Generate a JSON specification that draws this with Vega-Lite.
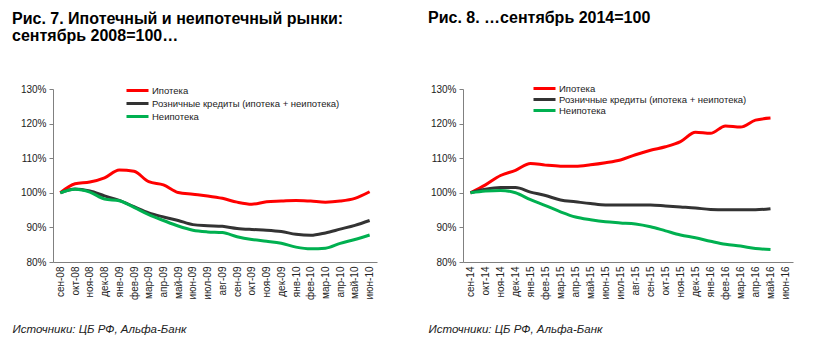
{
  "$schema": "https://vega.github.io/schema/vega-lite/v6.json",
  "background": "white",
  "padding": {"left": 12, "top": 10, "right": 5, "bottom": 5},
  "config": {
    "font": "Liberation Sans",
    "view": {"stroke": null},
    "title": {"font": "Liberation Sans", "fontSize": 16, "fontWeight": "bold", "anchor": "start", "color": "#000000", "lineHeight": 17, "offset": 40, "frame": "bounds"},
    "axisX": {"labelAngle": -90, "labelFontSize": 10, "labelColor": "#222222", "ticks": false, "domainColor": "#808080", "labelPadding": 4, "grid": false,
      "titleFont": "Liberation Sans", "titleFontStyle": "italic", "titleFontWeight": "normal", "titleFontSize": 11.5, "titleAnchor": "start", "titleAlign": "left", "titleBaseline": "middle", "titleColor": "#222222", "titleY": 67},
    "axisY": {"labelFontSize": 10, "labelColor": "#222222", "tickSize": 4, "tickColor": "#808080", "domainColor": "#808080", "labelPadding": 3, "grid": false, "title": null},
    "legend": {"orient": "none", "title": null, "symbolType": "stroke", "symbolStrokeWidth": 3, "symbolSize": 484, "labelFontSize": 9.5, "labelColor": "#222222", "labelFont": "Liberation Sans", "labelLimit": 400, "clipHeight": 11, "padding": 0, "labelOffset": 2}
  },
  "datasets": {
    "left": [
      {"m": "сен-08", "s": "Ипотека", "v": 100}, {"m": "окт-08", "s": "Ипотека", "v": 102.6}, {"m": "ноя-08", "s": "Ипотека", "v": 103.1}, {"m": "дек-08", "s": "Ипотека", "v": 104.3}, {"m": "янв-09", "s": "Ипотека", "v": 106.6}, {"m": "фев-09", "s": "Ипотека", "v": 106.2}, {"m": "мар-09", "s": "Ипотека", "v": 103.2}, {"m": "апр-09", "s": "Ипотека", "v": 102.3}, {"m": "май-09", "s": "Ипотека", "v": 100.1}, {"m": "июн-09", "s": "Ипотека", "v": 99.6}, {"m": "июл-09", "s": "Ипотека", "v": 99.1}, {"m": "авг-09", "s": "Ипотека", "v": 98.4}, {"m": "сен-09", "s": "Ипотека", "v": 97.3}, {"m": "окт-09", "s": "Ипотека", "v": 96.7}, {"m": "ноя-09", "s": "Ипотека", "v": 97.4}, {"m": "дек-09", "s": "Ипотека", "v": 97.6}, {"m": "янв-10", "s": "Ипотека", "v": 97.8}, {"m": "фев-10", "s": "Ипотека", "v": 97.6}, {"m": "мар-10", "s": "Ипотека", "v": 97.3}, {"m": "апр-10", "s": "Ипотека", "v": 97.6}, {"m": "май-10", "s": "Ипотека", "v": 98.4}, {"m": "июн-10", "s": "Ипотека", "v": 100.3},
      {"m": "сен-08", "s": "Розничные кредиты (ипотека + неипотека)", "v": 100}, {"m": "окт-08", "s": "Розничные кредиты (ипотека + неипотека)", "v": 101.1}, {"m": "ноя-08", "s": "Розничные кредиты (ипотека + неипотека)", "v": 100.5}, {"m": "дек-08", "s": "Розничные кредиты (ипотека + неипотека)", "v": 99.1}, {"m": "янв-09", "s": "Розничные кредиты (ипотека + неипотека)", "v": 97.8}, {"m": "фев-09", "s": "Розничные кредиты (ипотека + неипотека)", "v": 96.0}, {"m": "мар-09", "s": "Розничные кредиты (ипотека + неипотека)", "v": 94.2}, {"m": "апр-09", "s": "Розничные кредиты (ипотека + неипотека)", "v": 93.0}, {"m": "май-09", "s": "Розничные кредиты (ипотека + неипотека)", "v": 92.0}, {"m": "июн-09", "s": "Розничные кредиты (ипотека + неипотека)", "v": 90.8}, {"m": "июл-09", "s": "Розничные кредиты (ипотека + неипотека)", "v": 90.5}, {"m": "авг-09", "s": "Розничные кредиты (ипотека + неипотека)", "v": 90.3}, {"m": "сен-09", "s": "Розничные кредиты (ипотека + неипотека)", "v": 89.7}, {"m": "окт-09", "s": "Розничные кредиты (ипотека + неипотека)", "v": 89.4}, {"m": "ноя-09", "s": "Розничные кредиты (ипотека + неипотека)", "v": 89.2}, {"m": "дек-09", "s": "Розничные кредиты (ипотека + неипотека)", "v": 88.8}, {"m": "янв-10", "s": "Розничные кредиты (ипотека + неипотека)", "v": 88.0}, {"m": "фев-10", "s": "Розничные кредиты (ипотека + неипотека)", "v": 87.7}, {"m": "мар-10", "s": "Розничные кредиты (ипотека + неипотека)", "v": 88.4}, {"m": "апр-10", "s": "Розничные кредиты (ипотека + неипотека)", "v": 89.5}, {"m": "май-10", "s": "Розничные кредиты (ипотека + неипотека)", "v": 90.6}, {"m": "июн-10", "s": "Розничные кредиты (ипотека + неипотека)", "v": 92.0},
      {"m": "сен-08", "s": "Неипотека", "v": 100}, {"m": "окт-08", "s": "Неипотека", "v": 101.0}, {"m": "ноя-08", "s": "Неипотека", "v": 100.2}, {"m": "дек-08", "s": "Неипотека", "v": 98.2}, {"m": "янв-09", "s": "Неипотека", "v": 97.7}, {"m": "фев-09", "s": "Неипотека", "v": 95.8}, {"m": "мар-09", "s": "Неипотека", "v": 93.7}, {"m": "апр-09", "s": "Неипотека", "v": 92.0}, {"m": "май-09", "s": "Неипотека", "v": 90.4}, {"m": "июн-09", "s": "Неипотека", "v": 89.2}, {"m": "июл-09", "s": "Неипотека", "v": 88.7}, {"m": "авг-09", "s": "Неипотека", "v": 88.5}, {"m": "сен-09", "s": "Неипотека", "v": 87.3}, {"m": "окт-09", "s": "Неипотека", "v": 86.5}, {"m": "ноя-09", "s": "Неипотека", "v": 86.0}, {"m": "дек-09", "s": "Неипотека", "v": 85.4}, {"m": "янв-10", "s": "Неипотека", "v": 84.3}, {"m": "фев-10", "s": "Неипотека", "v": 83.8}, {"m": "мар-10", "s": "Неипотека", "v": 84.0}, {"m": "апр-10", "s": "Неипотека", "v": 85.4}, {"m": "май-10", "s": "Неипотека", "v": 86.5}, {"m": "июн-10", "s": "Неипотека", "v": 87.8}
    ],
    "right": [
      {"m": "сен-14", "s": "Ипотека", "v": 100}, {"m": "окт-14", "s": "Ипотека", "v": 102.3}, {"m": "ноя-14", "s": "Ипотека", "v": 105.0}, {"m": "дек-14", "s": "Ипотека", "v": 106.5}, {"m": "янв-15", "s": "Ипотека", "v": 108.5}, {"m": "фев-15", "s": "Ипотека", "v": 108.0}, {"m": "мар-15", "s": "Ипотека", "v": 107.7}, {"m": "апр-15", "s": "Ипотека", "v": 107.7}, {"m": "май-15", "s": "Ипотека", "v": 108.1}, {"m": "июн-15", "s": "Ипотека", "v": 108.7}, {"m": "июл-15", "s": "Ипотека", "v": 109.5}, {"m": "авг-15", "s": "Ипотека", "v": 111.0}, {"m": "сен-15", "s": "Ипотека", "v": 112.3}, {"m": "окт-15", "s": "Ипотека", "v": 113.3}, {"m": "ноя-15", "s": "Ипотека", "v": 114.8}, {"m": "дек-15", "s": "Ипотека", "v": 117.5}, {"m": "янв-16", "s": "Ипотека", "v": 117.2}, {"m": "фев-16", "s": "Ипотека", "v": 119.3}, {"m": "мар-16", "s": "Ипотека", "v": 119.0}, {"m": "апр-16", "s": "Ипотека", "v": 121.0}, {"m": "май-16", "s": "Ипотека", "v": 121.6},
      {"m": "сен-14", "s": "Розничные кредиты (ипотека + неипотека)", "v": 100}, {"m": "окт-14", "s": "Розничные кредиты (ипотека + неипотека)", "v": 101.0}, {"m": "ноя-14", "s": "Розничные кредиты (ипотека + неипотека)", "v": 101.5}, {"m": "дек-14", "s": "Розничные кредиты (ипотека + неипотека)", "v": 101.5}, {"m": "янв-15", "s": "Розничные кредиты (ипотека + неипотека)", "v": 100.2}, {"m": "фев-15", "s": "Розничные кредиты (ипотека + неипотека)", "v": 99.2}, {"m": "мар-15", "s": "Розничные кредиты (ипотека + неипотека)", "v": 97.9}, {"m": "апр-15", "s": "Розничные кредиты (ипотека + неипотека)", "v": 97.4}, {"m": "май-15", "s": "Розничные кредиты (ипотека + неипотека)", "v": 96.9}, {"m": "июн-15", "s": "Розничные кредиты (ипотека + неипотека)", "v": 96.5}, {"m": "июл-15", "s": "Розничные кредиты (ипотека + неипотека)", "v": 96.5}, {"m": "авг-15", "s": "Розничные кредиты (ипотека + неипотека)", "v": 96.5}, {"m": "сен-15", "s": "Розничные кредиты (ипотека + неипотека)", "v": 96.5}, {"m": "окт-15", "s": "Розничные кредиты (ипотека + неипотека)", "v": 96.2}, {"m": "ноя-15", "s": "Розничные кредиты (ипотека + неипотека)", "v": 95.9}, {"m": "дек-15", "s": "Розничные кредиты (ипотека + неипотека)", "v": 95.6}, {"m": "янв-16", "s": "Розничные кредиты (ипотека + неипотека)", "v": 95.2}, {"m": "фев-16", "s": "Розничные кредиты (ипотека + неипотека)", "v": 95.1}, {"m": "мар-16", "s": "Розничные кредиты (ипотека + неипотека)", "v": 95.1}, {"m": "апр-16", "s": "Розничные кредиты (ипотека + неипотека)", "v": 95.1}, {"m": "май-16", "s": "Розничные кредиты (ипотека + неипотека)", "v": 95.4},
      {"m": "сен-14", "s": "Неипотека", "v": 100}, {"m": "окт-14", "s": "Неипотека", "v": 100.5}, {"m": "ноя-14", "s": "Неипотека", "v": 100.7}, {"m": "дек-14", "s": "Неипотека", "v": 100.0}, {"m": "янв-15", "s": "Неипотека", "v": 98.0}, {"m": "фев-15", "s": "Неипотека", "v": 96.3}, {"m": "мар-15", "s": "Неипотека", "v": 94.5}, {"m": "апр-15", "s": "Неипотека", "v": 93.0}, {"m": "май-15", "s": "Неипотека", "v": 92.2}, {"m": "июн-15", "s": "Неипотека", "v": 91.6}, {"m": "июл-15", "s": "Неипотека", "v": 91.3}, {"m": "авг-15", "s": "Неипотека", "v": 91.0}, {"m": "сен-15", "s": "Неипотека", "v": 90.2}, {"m": "окт-15", "s": "Неипотека", "v": 89.0}, {"m": "ноя-15", "s": "Неипотека", "v": 87.8}, {"m": "дек-15", "s": "Неипотека", "v": 87.0}, {"m": "янв-16", "s": "Неипотека", "v": 86.0}, {"m": "фев-16", "s": "Неипотека", "v": 85.1}, {"m": "мар-16", "s": "Неипотека", "v": 84.6}, {"m": "апр-16", "s": "Неипотека", "v": 83.9}, {"m": "май-16", "s": "Неипотека", "v": 83.6}
    ]
  },
  "spacing": 51,
  "resolve": {"scale": {"color": "independent", "x": "independent", "y": "independent"}, "legend": {"color": "independent"}},
  "hconcat": [
    {
      "title": {"text": ["Рис. 7. Ипотечный и неипотечный рынки:", "сентябрь 2008=100…"]},
      "width": 324,
      "height": 173,
      "data": {"name": "left"},
      "mark": {"type": "line", "strokeWidth": 3, "interpolate": "monotone"},
      "encoding": {
        "x": {"field": "m", "type": "ordinal", "sort": null,
          "scale": {"type": "point", "padding": 0.5, "domain": ["сен-08", "окт-08", "ноя-08", "дек-08", "янв-09", "фев-09", "мар-09", "апр-09", "май-09", "июн-09", "июл-09", "авг-09", "сен-09", "окт-09", "ноя-09", "дек-09", "янв-10", "фев-10", "мар-10", "апр-10", "май-10", "июн-10"]},
          "axis": {"title": "Источники: ЦБ РФ, Альфа-Банк", "titleX": -41}},
        "y": {"field": "v", "type": "quantitative", "scale": {"domain": [80, 130], "nice": false, "zero": false},
          "axis": {"values": [80, 90, 100, 110, 120, 130], "labelExpr": "datum.value + '%'"}},
        "color": {"field": "s", "type": "nominal",
          "scale": {"domain": ["Ипотека", "Розничные кредиты (ипотека + неипотека)", "Неипотека"], "range": ["#ff0000", "#333333", "#00b050"]},
          "legend": {"legendX": 72, "legendY": -4, "rowPadding": 2}}
      }
    },
    {
      "title": {"text": ["Рис. 8. …сентябрь 2014=100", " "]},
      "width": 330,
      "height": 173,
      "data": {"name": "right"},
      "mark": {"type": "line", "strokeWidth": 3, "interpolate": "monotone"},
      "encoding": {
        "x": {"field": "m", "type": "ordinal", "sort": null,
          "scale": {"type": "point", "padding": 0.5, "domain": ["сен-14", "окт-14", "ноя-14", "дек-14", "янв-15", "фев-15", "мар-15", "апр-15", "май-15", "июн-15", "июл-15", "авг-15", "сен-15", "окт-15", "ноя-15", "дек-15", "янв-16", "фев-16", "мар-16", "апр-16", "май-16", "июн-16"]},
          "axis": {"title": "Источники: ЦБ РФ, Альфа-Банк", "titleX": -35}},
        "y": {"field": "v", "type": "quantitative", "scale": {"domain": [80, 130], "nice": false, "zero": false},
          "axis": {"values": [80, 90, 100, 110, 120, 130], "labelExpr": "datum.value + '%'"}},
        "color": {"field": "s", "type": "nominal",
          "scale": {"domain": ["Ипотека", "Розничные кредиты (ипотека + неипотека)", "Неипотека"], "range": ["#ff0000", "#333333", "#00b050"]},
          "legend": {"legendX": 69, "legendY": -6, "rowPadding": 0}}
      }
    }
  ]
}
